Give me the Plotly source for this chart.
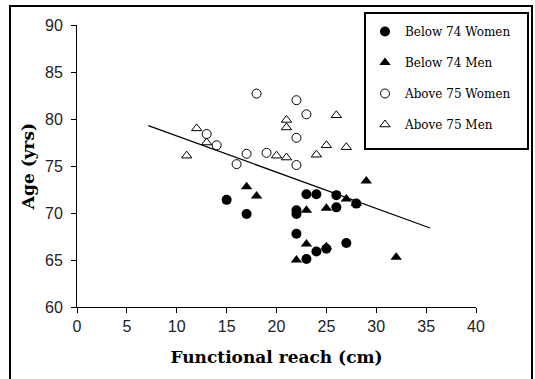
import plotly.graph_objects as go

# ---- data ----
below74_women_x = [15, 17, 22, 22, 22, 23, 23, 24, 24, 25, 26, 26, 27, 28]
below74_women_y = [71.4, 69.9, 70.3, 69.9, 67.8, 72.0, 65.1, 72.0, 65.9, 66.2, 71.9, 70.6, 66.8, 71.0]

below74_men_x = [17, 18, 22, 23, 23, 25, 25, 27, 28, 29, 32]
below74_men_y = [72.8, 71.8, 65.0, 70.3, 66.7, 70.5, 66.4, 71.5, 71.0, 73.4, 65.3]

above75_women_x = [13, 14, 16, 17, 18, 19, 22, 22, 22, 23]
above75_women_y = [78.4, 77.2, 75.2, 76.3, 82.7, 76.4, 82.0, 78.0, 75.1, 80.5]

above75_men_x = [11, 12, 13, 20, 21, 21, 21, 24, 25, 26, 27]
above75_men_y = [76.1, 79.0, 77.5, 76.1, 79.9, 79.1, 75.9, 76.2, 77.2, 80.4, 77.0]

fit_x = [7.15, 35.4]
fit_y = [79.3, 68.4]

x_ticks = [0, 5, 10, 15, 20, 25, 30, 35, 40]
y_ticks = [60, 65, 70, 75, 80, 85, 90]

# ---- layout geometry (pixels) ----
W, H = 535, 379
ML, MR, MT, MB = 77, 59, 25, 72
PW, PH = W - ML - MR, H - MT - MB

def px_x(p):
    return (p - ML) / PW

def px_y(p):
    return (H - MB - p) / PH

fig = go.Figure()

fig.add_trace(go.Scatter(
    x=fit_x, y=fit_y, mode="lines", line=dict(color="black", width=1.2),
    showlegend=False, hoverinfo="skip"))

fig.add_trace(go.Scatter(
    x=below74_women_x, y=below74_women_y, mode="markers", name="Below 74 Women",
    legendgroup="a",
    marker=dict(symbol="circle", size=10, color="black", line=dict(width=0))))
fig.add_trace(go.Scatter(
    x=below74_men_x, y=below74_men_y, mode="markers", name="Below 74 Men",
    legendgroup="b",
    marker=dict(symbol="triangle-up", size=10, color="black", line=dict(width=0))))
fig.add_trace(go.Scatter(
    x=above75_women_x, y=above75_women_y, mode="markers", name="Above 75 Women",
    legendgroup="c",
    marker=dict(symbol="circle-open", size=9, color="black", line=dict(width=1))))
fig.add_trace(go.Scatter(
    x=above75_men_x, y=above75_men_y, mode="markers", name="Above 75 Men",
    legendgroup="d",
    marker=dict(symbol="triangle-up-open", size=9, color="black", line=dict(width=1))))

tick_font = dict(family="Liberation Sans", size=16, color="#222")
title_font = dict(family="DejaVu Serif", size=17, color="black", weight="bold")

fig.update_layout(
    width=W, height=H,
    margin=dict(l=ML, r=MR, t=MT, b=MB, pad=0, autoexpand=False),
    paper_bgcolor="white", plot_bgcolor="white",
    xaxis=dict(range=[0, 40], tickvals=x_ticks, ticks="outside", ticklen=5,
               tickcolor="black", showline=True, linecolor="black", linewidth=1,
               showgrid=False, zeroline=False, tickfont=tick_font, automargin=False,
               title=dict(text="Functional reach (cm)", font=title_font, standoff=16)),
    yaxis=dict(range=[60, 90], tickvals=y_ticks, ticks="outside", ticklen=5,
               tickcolor="black", showline=True, linecolor="black", linewidth=1,
               showgrid=False, zeroline=False, tickfont=tick_font, automargin=False,
               ticklabelstandoff=5,
               title=dict(text="Age (yrs)", font=title_font, standoff=6)),
    legend=dict(x=px_x(365), y=px_y(17), xanchor="left", yanchor="top",
                bgcolor="rgba(0,0,0,0)", borderwidth=0,
                font=dict(family="DejaVu Serif", size=12, color="black"),
                traceorder="grouped", tracegroupgap=12),
    shapes=[
        dict(type="rect", xref="paper", yref="paper",
             x0=px_x(10), x1=px_x(532), y0=px_y(390), y1=px_y(6),
             line=dict(color="black", width=2), layer="below"),
        dict(type="rect", xref="paper", yref="paper",
             x0=px_x(365), x1=px_x(528), y0=px_y(149), y1=px_y(13),
             line=dict(color="black", width=2), fillcolor="white", layer="below"),
    ],
)

fig.write_html("out.html", config={"displayModeBar": False},
               post_script="document.body.style.margin='0';document.body.style.padding='0';")
